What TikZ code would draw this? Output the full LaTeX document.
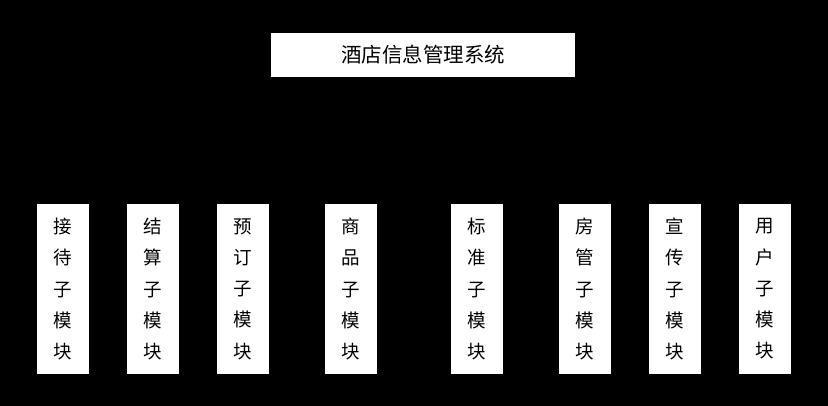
\documentclass[tikz,border=0pt]{standalone}
\usepackage{fontspec}
\newfontfamily\cjk{Noto Sans CJK SC}

\begin{document}
\begin{tikzpicture}[x=1pt,y=-1pt,thick,
    top node/.style={fill=white,minimum width=304pt,minimum height=44pt,inner sep=0pt,font=\cjk\fontsize{20.5}{20.5}\selectfont},
    sub node/.style={fill=white,minimum width=52pt,minimum height=169pt,inner sep=0pt,align=center,font=\cjk\fontsize{18.5}{31.3}\selectfont}]
                \fill[black] (0,0) rectangle (828,406);
                \useasboundingbox (0,0) rectangle (828,406);

                \node[top node] (sys) at (423,55) {酒店信息管理系统};

                \node[sub node] (1) at (63,289) {接\\待\\子\\模\\块};
                \node[sub node] (2) at (153,289) {结\\算\\子\\模\\块};
                \node[sub node] (3) at (243,289) {预\\订\\子\\模\\块};
                \node[sub node] (4) at (351,289) {商\\品\\子\\模\\块};
                \node[sub node] (5) at (477,289) {标\\准\\子\\模\\块};
                \node[sub node] (6) at (585,289) {房\\管\\子\\模\\块};
                \node[sub node] (7) at (674.5,289) {宣\\传\\子\\模\\块};
                \node[sub node] (8) at (765,289) {用\\户\\子\\模\\块};
            \end{tikzpicture}
\end{document}
